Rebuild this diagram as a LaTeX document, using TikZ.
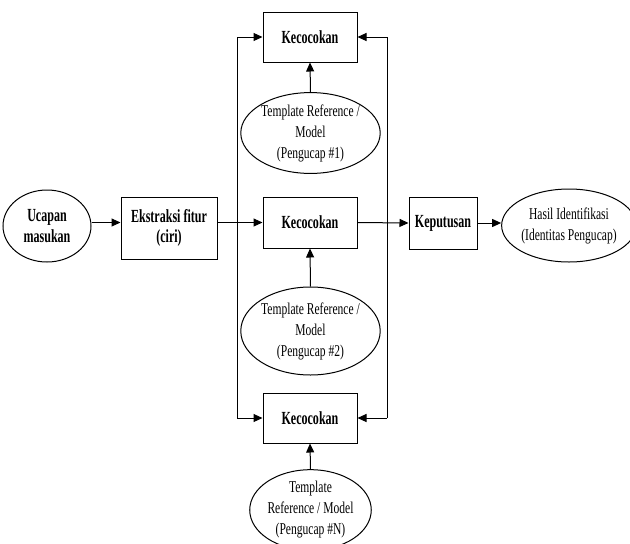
\documentclass[tikz,border=0pt]{standalone}
\usepackage{fontspec}
\setmainfont[FakeStretch=0.7]{Liberation Serif}
\newfontfamily\boldf[FakeStretch=0.65]{Liberation Serif}
\usetikzlibrary{arrows.meta,shapes.geometric}
\begin{document}
\begin{tikzpicture}[x=1pt,y=-1pt,
  line width=1pt,
  arr/.style={-{Triangle[length=9pt,width=8pt]}},
  boxb/.style={draw,rectangle,inner sep=0pt,align=center,font=\boldf\fontsize{18.5}{20.5}\selectfont\bfseries},
  ellb/.style={draw,ellipse,inner sep=0pt,align=center,font=\boldf\fontsize{18.5}{20.5}\selectfont\bfseries},
  ellr/.style={draw,ellipse,inner sep=0pt,align=center,font=\fontsize{16.5}{21}\selectfont},
]
\useasboundingbox (0,0) rectangle (630,544);
% nodes
\node[ellb,minimum width=88pt,minimum height=72pt] (u) at (47,226) {Ucapan\\masukan};
\node[boxb,minimum width=96pt,minimum height=62pt] (e) at (169,228) {Ekstraksi fitur\\(ciri)};
\node[boxb,minimum width=94pt,minimum height=50pt] (k1) at (310,37) {Kecocokan};
\node[boxb,minimum width=94pt,minimum height=51pt] (k2) at (310,222.5) {Kecocokan};
\node[boxb,minimum width=94pt,minimum height=50pt] (k3) at (310,418) {Kecocokan};
\node[ellr,minimum width=127pt,minimum height=74pt] (t1) at (310.5,133) {Template Reference /\\Model\\(Pengucap \#1)};
\node[ellr,minimum width=127pt,minimum height=88pt] (t2) at (310.5,331) {Template Reference /\\Model\\(Pengucap \#2)};
\node[ellr,minimum width=105pt,minimum height=66pt] (t3) at (310.5,510) {Template\\Reference / Model\\(Pengucap \#N)};
\node[boxb,minimum width=68pt,minimum height=52pt] (kp) at (443,223) {Keputusan};
\node[ellr,minimum width=120pt,minimum height=73pt] (h) at (569,225.5) {Hasil Identifikasi\\(Identitas Pengucap)};
% bus coordinates
\coordinate (bl1) at (237,37);
\coordinate (bl3) at (237,418);
\coordinate (br1) at (387,37);
\coordinate (br3) at (387,418);
% connectors
\draw[arr] (u.east |- k2) -- (e.west |- k2);
\draw[arr] (e.east |- k2) -- (k2.west);
\draw (bl1) -- (bl3);
\draw[arr] (bl1) -- (k1.west);
\draw[arr] (bl3) -- (k3.west);
\draw (br1) -- (br3);
\draw[arr] (br1) -- (k1.east);
\draw[arr] (br3) -- (k3.east);
\draw[arr] (k2.east) -- (kp.west);
\draw[arr] (kp.east) -- (kp.east -| h.west);
\draw[arr] (t1.north) -- (k1.south);
\draw[arr] (t2.north) -- (k2.south);
\draw[arr] (t3.north) -- (k3.south);
\end{tikzpicture}
\end{document}
